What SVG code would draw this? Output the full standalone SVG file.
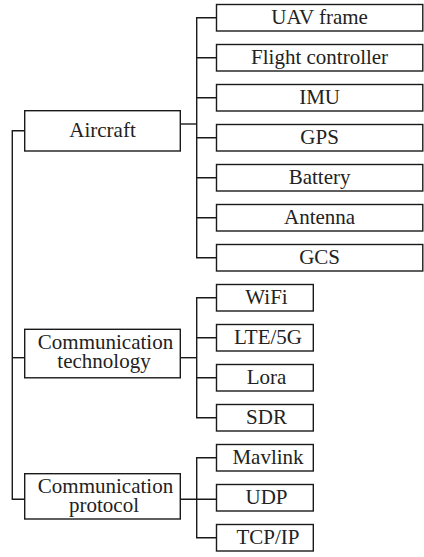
<svg xmlns="http://www.w3.org/2000/svg" width="424" height="557" viewBox="0 0 424 557">
<style>
.box{fill:#fff;stroke:#1a1a1a;stroke-width:1.4}
text{font-family:'Liberation Serif','Times New Roman',Times,serif;font-size:21px;fill:#222;text-anchor:middle}
#connectors path{fill:none;stroke:#1a1a1a;stroke-width:1.4}
</style>
<rect x="0" y="0" width="424" height="557" style="fill:#fff;stroke:none"/>
<g id="connectors">
<path d="M24.7,130.7H12.3V499.3H24.7"/>
<path d="M12.3,357.7H24.7"/>
<path d="M180.3,124H196.7"/>
<path d="M216.5,17.7H196.7V257.7H216.5M196.7,57.7H216.5M196.7,97.7H216.5M196.7,137.7H216.5M196.7,177.7H216.5M196.7,217.7H216.5"/>
<path d="M180.3,357.7H196.7"/>
<path d="M216.5,297.7H196.7V417.7H216.5M196.7,337.7H216.5M196.7,377.7H216.5"/>
<path d="M180.3,499.3H216.5"/>
<path d="M216.5,457.7H196.7V537.7H216.5"/>
</g>
<g id="aircraft"><rect class="box" x="24.7" y="110.7" width="155.6" height="40.3"/><text x="102.5" y="136.7">Aircraft</text></g>
<g id="comm-tech"><rect class="box" x="24.7" y="329.3" width="155.6" height="48.5"/><text x="105.5" y="348.8">Communication</text><text x="104" y="368">technology</text></g>
<g id="comm-protocol"><rect class="box" x="24.7" y="473.7" width="155.6" height="45.3"/><text x="105.5" y="492.8">Communication</text><text x="104" y="512">protocol</text></g>
<g id="uav-frame"><rect class="box" x="216.5" y="4.5" width="206.3" height="26.5"/><text x="319.6" y="23.5">UAV frame</text></g>
<g id="flight-controller"><rect class="box" x="216.5" y="44.5" width="206.3" height="26.5"/><text x="319.6" y="63.5">Flight controller</text></g>
<g id="imu"><rect class="box" x="216.5" y="84.5" width="206.3" height="26.5"/><text x="319.6" y="103.5">IMU</text></g>
<g id="gps"><rect class="box" x="216.5" y="124.5" width="206.3" height="26.5"/><text x="319.6" y="143.5">GPS</text></g>
<g id="battery"><rect class="box" x="216.5" y="164.5" width="206.3" height="26.5"/><text x="319.6" y="183.5">Battery</text></g>
<g id="antenna"><rect class="box" x="216.5" y="204.5" width="206.3" height="26.5"/><text x="319.6" y="223.5">Antenna</text></g>
<g id="gcs"><rect class="box" x="216.5" y="244.5" width="206.3" height="26.5"/><text x="319.6" y="263.5">GCS</text></g>
<g id="wifi"><rect class="box" x="216.5" y="284.5" width="96.8" height="26.5"/><text x="266.5" y="303.5">WiFi</text></g>
<g id="lte5g"><rect class="box" x="216.5" y="324.5" width="96.8" height="26.5"/><text x="268" y="343.5">LTE/5G</text></g>
<g id="lora"><rect class="box" x="216.5" y="364.5" width="96.8" height="26.5"/><text x="266.5" y="383.5">Lora</text></g>
<g id="sdr"><rect class="box" x="216.5" y="404.5" width="96.8" height="26.5"/><text x="266.5" y="423.5">SDR</text></g>
<g id="mavlink"><rect class="box" x="216.5" y="444.5" width="96.8" height="26.5"/><text x="268" y="463.5">Mavlink</text></g>
<g id="udp"><rect class="box" x="216.5" y="484.5" width="96.8" height="26.5"/><text x="266.5" y="503.5">UDP</text></g>
<g id="tcpip"><rect class="box" x="216.5" y="524.5" width="96.8" height="26.5"/><text x="268" y="543.5">TCP/IP</text></g>
</svg>
